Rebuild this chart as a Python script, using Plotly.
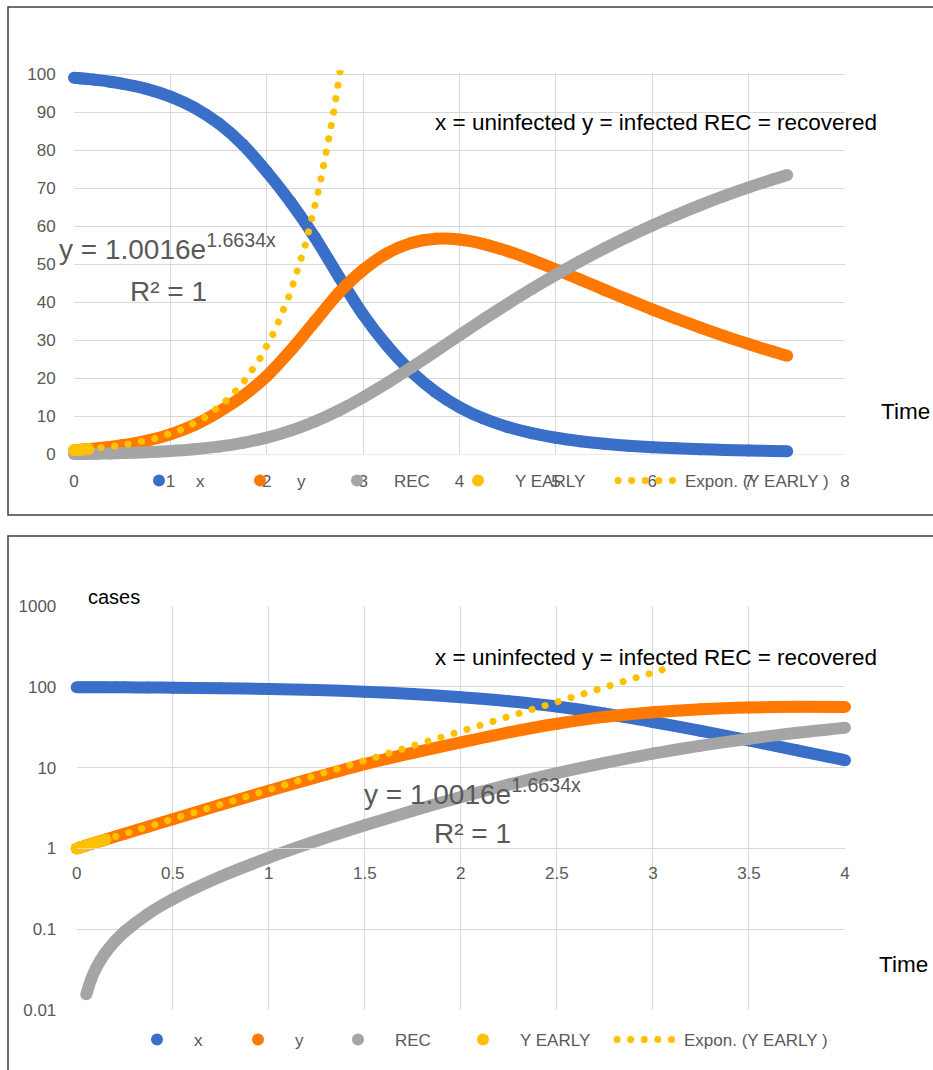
import numpy as np
import plotly.graph_objects as go

# ---------------- data ----------------
T = [0, 0.025, 0.05, 0.075, 0.1, 0.125, 0.15, 0.2, 0.25, 0.375, 0.5, 0.75,
     1.0, 1.25, 1.5, 1.75, 2.0, 2.25, 2.5, 2.75, 3.0, 3.25, 3.5, 3.75, 4.0,
     4.25, 4.5, 4.75, 5.0, 5.25, 5.5, 5.75, 6.0, 6.25, 6.5, 6.75, 7.0, 7.25, 7.4]

X_UNINFECTED = [99.0, 98.949, 98.897, 98.842, 98.784, 98.725, 98.662, 98.529, 98.387,
                97.973, 97.465, 96.089, 94.062, 91.134, 87.017, 81.445, 74.281, 66.2,
                57.0, 46.6, 36.678, 28.454, 21.685, 16.372, 12.333, 9.326, 7.108,
                5.474, 4.266, 3.368, 2.695, 2.185, 1.795, 1.493, 1.257, 1.071, 0.922,
                0.802, 0.741]

Y_INFECTED = [1.0, 1.043, 1.088, 1.134, 1.183, 1.234, 1.287, 1.399, 1.52, 1.872,
              2.301, 3.464, 5.171, 7.625, 11.048, 15.2, 20.5, 27.3, 34.9,
              42.461, 48.428, 52.844, 55.537, 56.635, 56.428, 55.242, 53.383, 51.097,
              48.567, 45.92, 43.25, 40.615, 38.055, 35.596, 33.251, 31.027, 28.929,
              26.954, 25.828]

REC = [0.0, 0.0077, 0.0157, 0.024, 0.0327, 0.0417, 0.0512, 0.0713, 0.0932, 0.1565,
       0.2344, 0.4478, 0.7675, 1.242, 1.935, 2.928, 4.309, 6.164, 8.551, 11.477,
       14.894, 18.702, 22.777, 26.993, 31.24, 35.433, 39.509, 43.429, 47.168,
       50.712, 54.055, 57.2, 60.15, 62.911, 65.492, 67.902, 70.149, 72.244, 73.432]

T_EARLY = [0, 0.025, 0.05, 0.075, 0.1, 0.125, 0.15]
Y_EARLY = [1.0, 1.044, 1.088, 1.135, 1.183, 1.233, 1.285]
TREND_T_END = 3.1

SERIES_NAMES = ["x", "y", "REC", "Y EARLY", "Expon. (Y EARLY )"]
EQUATION_TEXT = "y = 1.0016e<sup>1.6634x</sup>"
R2_TEXT = "R² = 1"
NOTE_TEXT = "x = uninfected y = infected REC = recovered"

X_TICKS_TOP = [0, 1, 2, 3, 4, 5, 6, 7, 8]
Y_TICKS_TOP = [0, 10, 20, 30, 40, 50, 60, 70, 80, 90, 100]
X_TICKS_BOT = [0, 0.5, 1, 1.5, 2, 2.5, 3, 3.5, 4]
Y_TICKS_BOT = [0.01, 0.1, 1, 10, 100, 1000]
Y_TICKTEXT_BOT = ["0.01", "0.1", "1", "10", "100", "1000"]

# ---------------- styling ----------------
W, H = 933, 1070
C_X, C_Y, C_REC, C_EARLY = "#3a6fc9", "#ff7800", "#a5a5a5", "#ffc000"
GRID = "#d9d9d9"
TXT = "#595959"
FONT = "Liberation Sans, Arial, sans-serif"
MS = 12   # marker size
LW = 12   # band width

# top panel: value axis 0..100 drawn from py 454 to py 74 (3.8 px / unit);
# a little headroom either side so the thick bands are not cut at the frame
Y_LO, Y_HI = -1.6, 101.0
PPU = 3.8


def px(x):
    return x / W


def py(y):
    return 1 - y / H


# trendline: exponential least-squares fit of the early points
b_fit, ln_a = np.polyfit(np.array(T_EARLY), np.log(np.array(Y_EARLY)), 1)
a_fit = np.exp(ln_a)
t_trend = np.linspace(0, TREND_T_END, 400)
y_trend = a_fit * np.exp(b_fit * t_trend)

fig = go.Figure()

t_arr = np.array(T)
series = [(np.array(X_UNINFECTED), C_X, SERIES_NAMES[0]),
          (np.array(Y_INFECTED), C_Y, SERIES_NAMES[1]),
          (np.array(REC), C_REC, SERIES_NAMES[2])]


def add_panel(xa, ya, legends, log_panel):
    for k, (vals, col, name) in enumerate(series):
        if log_panel:
            m = (t_arr <= 4) & (vals >= 0.01)
        else:
            m = np.ones_like(t_arr, dtype=bool)
        fig.add_trace(go.Scatter(x=t_arr[m], y=vals[m], mode="lines",
                                 line=dict(color=col, width=LW, shape="spline", smoothing=0.8),
                                 showlegend=False, hoverinfo="skip", cliponaxis=False,
                                 xaxis=xa, yaxis=ya))
        fig.add_trace(go.Scatter(x=t_arr[m], y=vals[m], mode="markers", name=name,
                                 marker=dict(color=col, size=MS), cliponaxis=False,
                                 legend=legends[k], xaxis=xa, yaxis=ya))
    fig.add_trace(go.Scatter(x=T_EARLY, y=Y_EARLY, mode="markers", name=SERIES_NAMES[3],
                             marker=dict(color=C_EARLY, size=MS), cliponaxis=False,
                             legend=legends[3], xaxis=xa, yaxis=ya))
    # the fitted curve is cut off by the top of the value axis like the original
    if log_panel:
        tt, yy = t_trend, y_trend
    else:
        keep = y_trend <= 104
        tt, yy = t_trend[keep], y_trend[keep]
    fig.add_trace(go.Scatter(x=tt, y=yy, mode="lines", name=SERIES_NAMES[4],
                             line=dict(color=C_EARLY, width=7, dash="7px,6.5px"),
                             legend=legends[4], xaxis=xa, yaxis=ya))


add_panel("x", "y", ["legend", "legend2", "legend3", "legend4", "legend5"], False)
add_panel("x2", "y2", ["legend6", "legend7", "legend8", "legend9", "legend10"], True)

tickfont = dict(family=FONT, size=17, color=TXT)

fig.update_layout(
    width=W, height=H, margin=dict(l=0, r=0, t=0, b=0, autoexpand=False),
    paper_bgcolor="white", plot_bgcolor="white",
    font=dict(family=FONT, color=TXT),
    xaxis=dict(domain=[px(74), px(845)], range=[0, 8], tickvals=X_TICKS_TOP,
               showgrid=True, gridcolor=GRID, gridwidth=1, zeroline=False,
               showline=False, anchor="y",
               ticks="outside", ticklen=6, tickcolor="rgba(0,0,0,0)",
               tickfont=tickfont, fixedrange=True),
    yaxis=dict(domain=[py(454 - Y_LO * PPU), py(74 - (Y_HI - 100) * PPU)],
               range=[Y_LO, Y_HI], tickvals=Y_TICKS_TOP,
               showgrid=True, gridcolor=GRID, gridwidth=1, zeroline=False,
               showline=False, anchor="x",
               ticks="outside", ticklen=14, tickcolor="rgba(0,0,0,0)",
               tickfont=tickfont, fixedrange=True),
    xaxis2=dict(domain=[px(76.7), px(845)], range=[0, 4], tickvals=X_TICKS_BOT,
                ticktext=[("%g" % v) for v in X_TICKS_BOT],
                showgrid=True, gridcolor=GRID, gridwidth=1, zeroline=False,
                showline=True, linecolor=GRID, linewidth=1,
                anchor="free", position=py(848.3),
                ticks="outside", ticklen=9, tickcolor="rgba(0,0,0,0)",
                tickfont=tickfont, fixedrange=True),
    yaxis2=dict(domain=[py(1010), py(606)], type="log", range=[-2, 3],
                tickvals=Y_TICKS_BOT, ticktext=Y_TICKTEXT_BOT,
                showgrid=True, gridcolor=GRID, gridwidth=1, zeroline=False,
                showline=False, anchor="x2",
                ticks="outside", ticklen=16, tickcolor="rgba(0,0,0,0)",
                tickfont=tickfont, fixedrange=True),
    showlegend=True,
)

# legends: one per entry so each sits where the original placed it
leg_font = dict(family=FONT, size=17, color=TXT)
IW = 64                   # marker centre at IW/2+5, text at IW+10
top_markers = [159, 260, 357, 478]
bot_markers = [157, 258, 358, 483]
top_starts = [m - (IW / 2 + 5) for m in top_markers] + [613]
bot_starts = [m - (IW / 2 + 5) for m in bot_markers] + [612]
names = ["legend", "legend2", "legend3", "legend4", "legend5",
         "legend6", "legend7", "legend8", "legend9", "legend10"]
for i, nm in enumerate(names):
    top = i < 5
    xs = (top_starts if top else bot_starts)[i % 5]
    yc = 481 if top else 1040
    iw = 62 if i % 5 == 4 else IW
    fig.layout[nm] = dict(x=px(xs), y=py(yc), xanchor="left", yanchor="middle",
                          orientation="h", bgcolor="rgba(0,0,0,0)", borderwidth=0,
                          font=leg_font, itemwidth=iw, itemclick=False,
                          itemdoubleclick=False)

# white strips hide the gridline stubs in the headroom of the top panel
strip = dict(type="rect", xref="x", yref="y", line=dict(width=0),
             fillcolor="white", layer="between")
fig.add_shape(x0=-0.02, x1=8.02, y0=Y_LO, y1=-0.16, **strip)
fig.add_shape(x0=-0.02, x1=8.02, y0=100.16, y1=Y_HI, **strip)

# frames around the two charts
frame = dict(type="rect", xref="paper", yref="paper",
             line=dict(color="#404040", width=1.5), fillcolor="rgba(0,0,0,0)", layer="below")
fig.add_shape(x0=px(8), x1=1.02, y0=py(515), y1=py(7), **frame)
fig.add_shape(x0=px(8), x1=1.02, y0=py(1085), y1=py(536), **frame)

ann = []
def note(x, y, text, size, color="#000000", xanchor="center"):
    ann.append(dict(x=px(x), y=py(y), xref="paper", yref="paper", text=text,
                    showarrow=False, xanchor=xanchor, yanchor="middle",
                    font=dict(family=FONT, size=size, color=color)))

note(655.5, 122, NOTE_TEXT, 22.5)
note(655.5, 657, NOTE_TEXT, 22.5)
note(167, 247, EQUATION_TEXT, 28, TXT)
note(168, 292, R2_TEXT, 28, TXT)
note(472, 792, EQUATION_TEXT, 28, TXT)
note(473, 833, R2_TEXT, 28, TXT)
note(905, 412, "Time", 22.5)
note(903, 964, "Time", 22.5)
note(114, 597, "cases", 20)
fig.update_layout(annotations=ann)

post = """
document.documentElement.style.margin = '0';
document.body.style.margin = '0';
document.body.style.overflow = 'hidden';
var gd = document.getElementById('{plot_id}');
function fixDots(){
  gd.querySelectorAll('path').forEach(function(p){
    var s = (p.style.stroke || '').replace(/\\s/g, '');
    var d = p.style.strokeDasharray;
    if (s === 'rgb(255,192,0)' && d && d !== 'none') {
      p.style.strokeLinecap = 'round';
      p.style.strokeDasharray = '0.1px,13.5px';
    }
  });
}
fixDots();
gd.on('plotly_afterplot', fixDots);
"""
fig.write_html("out.html", post_script=post)
